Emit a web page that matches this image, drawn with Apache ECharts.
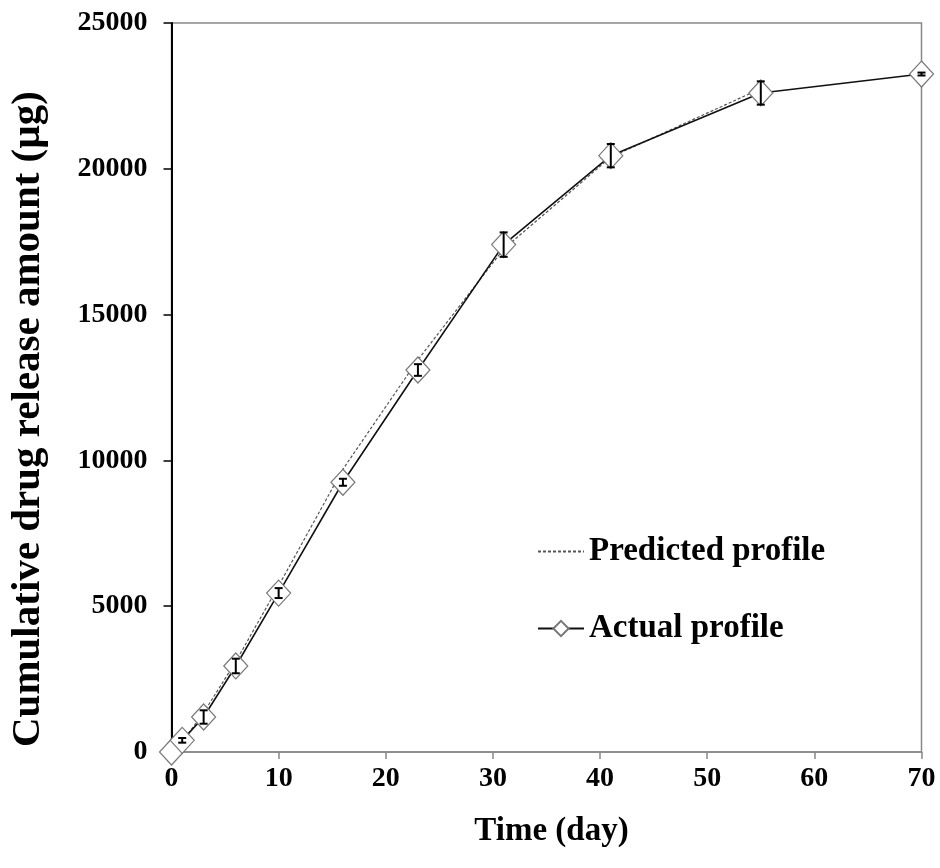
<!DOCTYPE html>
<html>
<head>
<meta charset="utf-8">
<script src="https://cdn.jsdelivr.net/npm/echarts@6/dist/echarts.min.js"></script>
<style>
html,body{margin:0;padding:0;background:#fff;}
#chart{width:940px;height:868px;}
</style>
</head>
<body>
<div id="chart"></div>
<script>
const xTicks = [0, 10, 20, 30, 40, 50, 60, 70];
const yTicks = [0, 5000, 10000, 15000, 20000, 25000];
const days = [0, 1, 3, 6, 10, 16, 23, 31, 41, 55, 70];
const actual = [0, 400, 1200, 2950, 5450, 9250, 13100, 17400, 20450, 22600, 23250];
const actualErr = [0, 80, 230, 250, 170, 120, 200, 420, 400, 400, 50];
const predDays = [0, 1, 3, 6, 10, 16, 23, 31, 41, 55];
const predicted = [0, 350, 1350, 3100, 5700, 9700, 13450, 17250, 20400, 22750];
const seriesNames = ['Predicted profile', 'Actual profile'];
const xTitle = 'Time (day)';
const yTitle = 'Cumulative drug release amount (\u00b5g)';

const FONT = "'Liberation Serif', 'Times New Roman', serif";
const chart = echarts.init(document.getElementById('chart'));

const actualData = days.map((d, i) => [d, actual[i]]);
const predData = predDays.map((d, i) => [d, predicted[i]]);
const errData = days.map((d, i) => [d, actual[i] - actualErr[i], actual[i] + actualErr[i]]);

chart.setOption({
  animation: false,
  backgroundColor: '#fff',
  grid: {left: 171.5, right: 18.5, top: 23, bottom: 116, show: true, borderColor: '#888', borderWidth: 1.5, backgroundColor: 'transparent'},
  xAxis: {
    type: 'value', min: xTicks[0], max: xTicks[xTicks.length - 1], interval: 10,
    name: xTitle, nameLocation: 'middle', nameGap: 63,
    nameTextStyle: {fontFamily: FONT, fontWeight: 'bold', fontSize: 33, color: '#000', padding: [0, 0, 0, 10]},
    axisLine: {show: true, lineStyle: {color: '#888', width: 1.5}},
    axisTick: {show: true, inside: false, length: 7, lineStyle: {color: '#888', width: 1.5}},
    axisLabel: {fontFamily: FONT, fontWeight: 'bold', fontSize: 28, color: '#000', margin: 13},
    splitLine: {show: false}
  },
  yAxis: {
    type: 'value', min: yTicks[0], max: yTicks[yTicks.length - 1], interval: 5000,
    axisLine: {show: true, lineStyle: {color: '#000', width: 2}},
    axisTick: {show: true, inside: false, length: 8, lineStyle: {color: '#000', width: 1.5}},
    axisLabel: {fontFamily: FONT, fontWeight: 'bold', fontSize: 28, color: '#000', margin: 24,
      formatter: function (v) { return String(v); }},
    splitLine: {show: false}
  },
  legend: {
    orient: 'vertical', left: 532, top: 530, itemGap: 44, itemWidth: 46, itemHeight: 19,
    textStyle: {fontFamily: FONT, fontWeight: 'bold', fontSize: 33, color: '#000', lineHeight: 30},
    data: [
      {name: seriesNames[0], itemStyle: {opacity: 0}},
      {name: seriesNames[1]}
    ]
  },
  graphic: [{
    type: 'text', x: 28, y: 419, rotation: Math.PI / 2,
    style: {text: yTitle, fontFamily: FONT, fontWeight: 'bold', fontSize: 41, fill: '#000', align: 'center', verticalAlign: 'middle'}
  }],
  series: [
    {
      name: seriesNames[0], type: 'line', data: predData, symbol: 'none', z: 2,
      lineStyle: {color: '#555', width: 1.2, type: [3, 2]},
      itemStyle: {color: '#555'}
    },
    {
      name: seriesNames[1], type: 'line', data: actualData, symbol: 'diamond', symbolSize: [24, 26], z: 3,
      showAllSymbol: true,
      lineStyle: {color: '#111', width: 1.6},
      itemStyle: {color: '#fff', borderColor: '#777', borderWidth: 1.2}
    },
    {
      name: 'err', type: 'custom', z: 5, data: errData,
      renderItem: function (params, api) {
        const x = api.value(0);
        const lo = api.coord([x, api.value(1)]);
        const hi = api.coord([x, api.value(2)]);
        const w = 4;
        if (Math.abs(hi[1] - lo[1]) < 1) return null;
        return {
          type: 'group',
          children: [
            {type: 'line', shape: {x1: lo[0], y1: lo[1], x2: hi[0], y2: hi[1]}, style: {stroke: '#000', lineWidth: 2}},
            {type: 'line', shape: {x1: lo[0] - w, y1: lo[1], x2: lo[0] + w, y2: lo[1]}, style: {stroke: '#000', lineWidth: 2}},
            {type: 'line', shape: {x1: hi[0] - w, y1: hi[1], x2: hi[0] + w, y2: hi[1]}, style: {stroke: '#000', lineWidth: 2}}
          ]
        };
      }
    }
  ]
});
</script>
</body>
</html>
